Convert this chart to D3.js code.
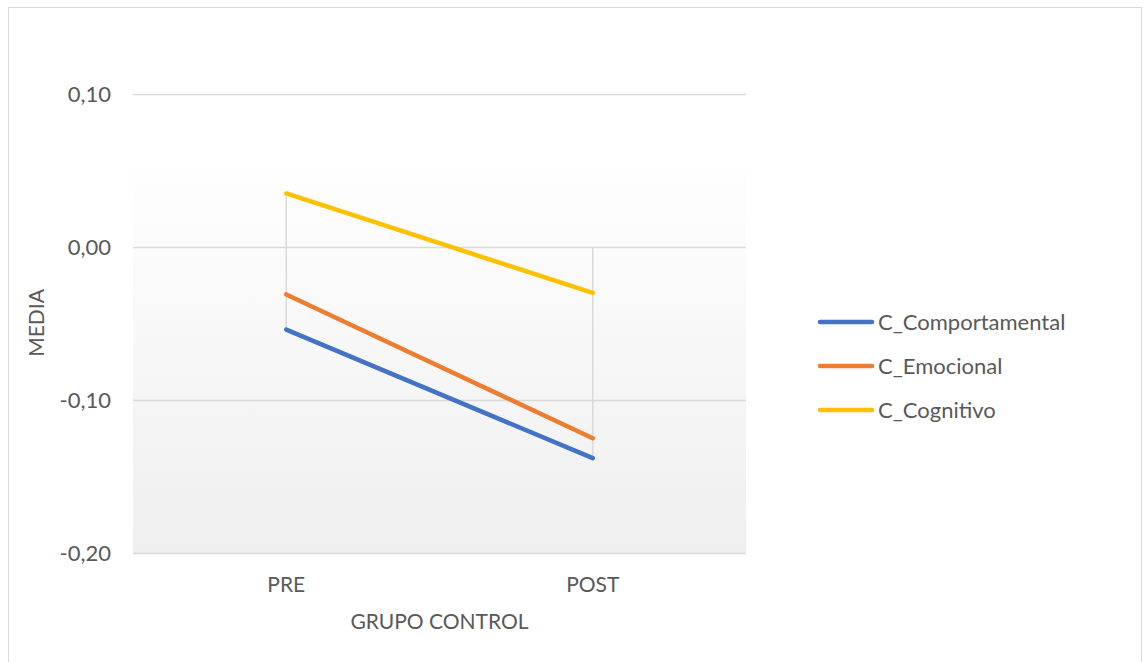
<!DOCTYPE html>
<html>
<head>
<meta charset="utf-8">
<script src="https://cdn.jsdelivr.net/npm/d3@7"></script>
<style>
  html, body { margin: 0; padding: 0; background: #ffffff; }
  svg { display: block; }
  text { font-family: Lato, "Open Sans", sans-serif; fill: #595959; }
</style>
</head>
<body>
<svg id="chart" width="1144" height="662"></svg>
<script>
// Categories on the x axis
const categories = ["PRE", "POST"];

// Mean values per series
const seriesNames = ["C_Comportamental", "C_Emocional", "C_Cognitivo"];
const comportamental = [-0.054, -0.138];
const emocional = [-0.031, -0.125];
const cognitivo = [0.035, -0.030];
const seriesColors = ["#4472C4", "#ED7D31", "#FFC000"];

// Vertical range lines at each category (top, bottom)
const rangeTop = [0.035, 0.0];
const rangeBottom = [-0.054, -0.138];

// Axis ticks
const yTicks = [0.10, 0.00, -0.10, -0.20];
const yTitle = "MEDIA";
const xTitle = "GRUPO CONTROL";

const seriesValues = [comportamental, emocional, cognitivo];

const svg = d3.select("#chart");

// Outer frame
svg.append("rect")
  .attr("x", 8.5).attr("y", 7.5)
  .attr("width", 1133).attr("height", 670)
  .attr("fill", "#ffffff")
  .attr("stroke", "#d9d9d9").attr("stroke-width", 1);

const plot = { left: 133, right: 746, top: 94, bottom: 553 };

const x = d3.scaleBand()
  .domain(categories)
  .range([plot.left, plot.right]);

const y = d3.scaleLinear()
  .domain([-0.2, 0.1])
  .range([plot.bottom, plot.top]);

// Plot area gradient fill
const defs = svg.append("defs");
const grad = defs.append("linearGradient")
  .attr("id", "plotFill")
  .attr("x1", 0).attr("y1", 0).attr("x2", 0).attr("y2", 1);
grad.append("stop").attr("offset", "0%").attr("stop-color", "#ffffff");
grad.append("stop").attr("offset", "100%").attr("stop-color", "#efefef");

svg.append("rect")
  .attr("x", plot.left).attr("y", 150)
  .attr("width", plot.right - plot.left)
  .attr("height", plot.bottom - 150)
  .attr("fill", "url(#plotFill)");

// Horizontal gridlines
svg.append("g")
  .selectAll("line")
  .data(yTicks)
  .join("line")
  .attr("x1", plot.left).attr("x2", plot.right)
  .attr("y1", d => Math.round(y(d)) + 0.5)
  .attr("y2", d => Math.round(y(d)) + 0.5)
  .attr("stroke", "#d9d9d9")
  .attr("stroke-width", 1.3);

// Y tick labels
const fmt = d => d3.format(".2f")(d).replace(".", ",").replace("−", "-");
svg.append("g")
  .selectAll("text")
  .data(yTicks)
  .join("text")
  .attr("x", 111)
  .attr("y", d => y(d))
  .attr("dy", "0.35em")
  .attr("text-anchor", "end")
  .attr("font-size", 22)
  .text(fmt);

// X tick labels
svg.append("g")
  .selectAll("text")
  .data(categories)
  .join("text")
  .attr("x", d => x(d) + x.bandwidth() / 2)
  .attr("y", 592)
  .attr("text-anchor", "middle")
  .attr("font-size", 21)
  .text(d => d);

// Axis titles
svg.append("text")
  .attr("x", (plot.left + plot.right) / 2)
  .attr("y", 629)
  .attr("text-anchor", "middle")
  .attr("font-size", 21)
  .text(xTitle);

svg.append("text")
  .attr("transform", "translate(44,323) rotate(-90)")
  .attr("text-anchor", "middle")
  .attr("font-size", 21)
  .text(yTitle);

// Vertical range lines
svg.append("g")
  .selectAll("line")
  .data(categories)
  .join("line")
  .attr("x1", d => x(d) + x.bandwidth() / 2)
  .attr("x2", d => x(d) + x.bandwidth() / 2)
  .attr("y1", (d, i) => y(rangeTop[i]))
  .attr("y2", (d, i) => y(rangeBottom[i]))
  .attr("stroke", "#d9d9d9")
  .attr("stroke-width", 1.5);

// Series lines
const line = d3.line()
  .x((d, i) => x(categories[i]) + x.bandwidth() / 2)
  .y(d => y(d));

svg.append("g")
  .selectAll("path")
  .data(seriesValues)
  .join("path")
  .attr("d", d => line(d))
  .attr("fill", "none")
  .attr("stroke", (d, i) => seriesColors[i])
  .attr("stroke-width", 4.5)
  .attr("stroke-linecap", "round")
  .attr("stroke-linejoin", "round");

// Legend
const legend = svg.append("g")
  .selectAll("g")
  .data(seriesNames)
  .join("g")
  .attr("transform", (d, i) => `translate(0, ${322 + i * 44})`);

legend.append("line")
  .attr("x1", 820).attr("x2", 872)
  .attr("y1", 0).attr("y2", 0)
  .attr("stroke", (d, i) => seriesColors[i])
  .attr("stroke-width", 4.5)
  .attr("stroke-linecap", "round");

legend.append("text")
  .attr("x", 878)
  .attr("y", 0)
  .attr("dy", "0.35em")
  .attr("font-size", 22)
  .text(d => d);
</script>
</body>
</html>
